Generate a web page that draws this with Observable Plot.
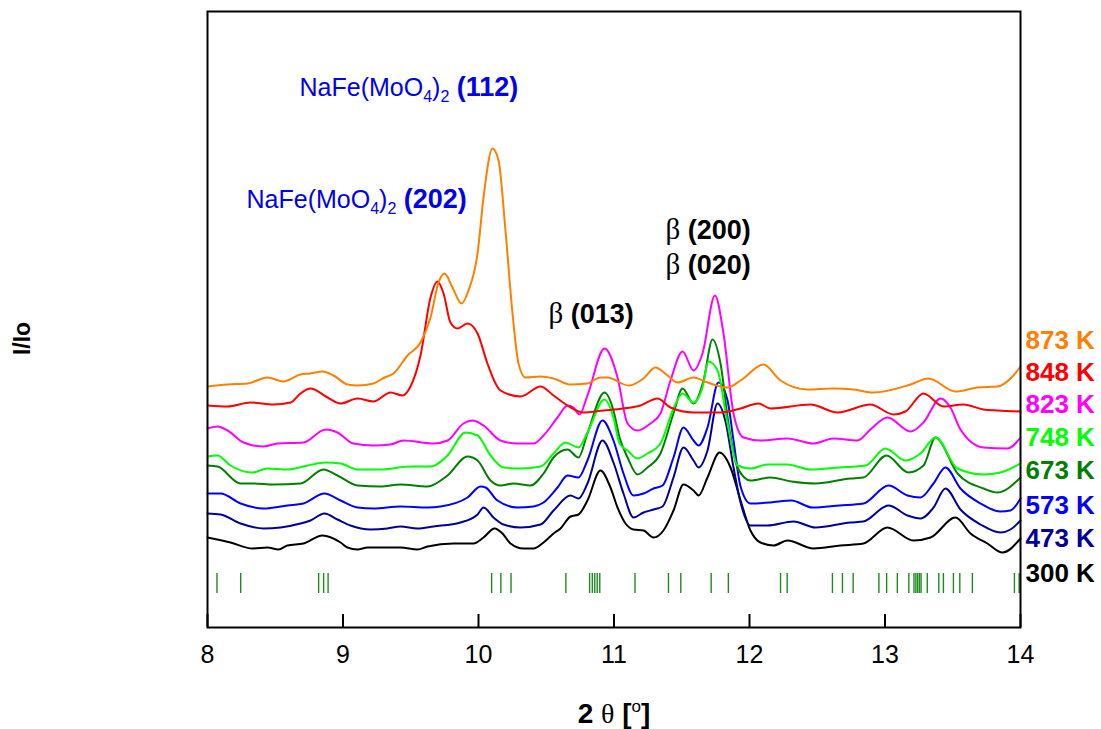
<!DOCTYPE html>
<html><head><meta charset="utf-8">
<script src="https://cdn.jsdelivr.net/npm/d3@7"></script>
<script src="https://cdn.jsdelivr.net/npm/@observablehq/plot@0.6"></script>
<style>body{margin:0;background:#fff}</style>
</head><body><div id="chart"></div>
<script>
// ---- data: [2theta (deg), intensity (arbitrary, offset)] ----
const k300 = [[8.000,90],[8.170,85],[8.332,79],[8.443,80],[8.524,78],[8.590,82],[8.708,84],[8.849,92],[8.982,85],[9.033,80],[9.107,78],[9.181,80],[9.328,80],[9.424,80],[9.550,78],[9.624,81],[9.815,84],[9.963,84],[10.037,90],[10.118,99],[10.177,94],[10.236,84],[10.332,79],[10.406,79],[10.480,85],[10.554,94],[10.605,99],[10.679,111],[10.738,113],[10.804,127],[10.900,157],[10.974,140],[11.026,120],[11.085,104],[11.144,98],[11.218,97],[11.292,90],[11.365,97],[11.439,117],[11.513,143],[11.587,137],[11.624,132],[11.690,150],[11.779,175],[11.860,160],[11.934,127],[12.007,97],[12.081,85],[12.177,82],[12.280,87],[12.472,79],[12.672,82],[12.841,84],[13.018,100],[13.210,87],[13.336,90],[13.520,110],[13.631,94],[13.756,84],[13.867,75],[14.000,89]];
const k473 = [[8.000,114],[8.096,113],[8.244,104],[8.413,99],[8.539,100],[8.686,104],[8.760,107],[8.863,114],[8.959,108],[9.055,102],[9.203,98],[9.328,99],[9.424,101],[9.550,99],[9.668,101],[9.867,105],[9.993,113],[10.037,120],[10.111,110],[10.185,103],[10.310,100],[10.458,103],[10.554,117],[10.679,132],[10.738,129],[10.804,144],[10.915,187],[10.996,165],[11.070,134],[11.144,110],[11.218,115],[11.292,118],[11.358,121],[11.439,150],[11.513,180],[11.587,167],[11.624,160],[11.690,177],[11.764,224],[11.823,206],[11.882,160],[11.934,125],[12.007,102],[12.133,102],[12.325,106],[12.487,100],[12.745,105],[12.841,106],[13.026,122],[13.166,112],[13.262,109],[13.358,120],[13.446,139],[13.557,118],[13.705,103],[13.852,95],[13.926,98],[14.000,107]];
const k573 = [[8.000,134],[8.096,134],[8.244,124],[8.413,119],[8.590,122],[8.708,124],[8.863,134],[8.982,127],[9.107,120],[9.225,119],[9.424,121],[9.624,120],[9.720,121],[9.919,130],[10.015,141],[10.052,140],[10.140,127],[10.288,120],[10.406,121],[10.480,125],[10.583,140],[10.657,152],[10.738,150],[10.804,167],[10.915,207],[10.996,187],[11.070,154],[11.144,132],[11.218,134],[11.292,139],[11.358,142],[11.439,170],[11.513,200],[11.587,187],[11.624,182],[11.690,200],[11.771,245],[11.838,227],[11.882,187],[11.934,141],[12.007,124],[12.155,125],[12.310,127],[12.465,120],[12.664,122],[12.841,124],[13.026,142],[13.166,132],[13.262,130],[13.358,144],[13.446,160],[13.557,139],[13.705,124],[13.852,116],[13.926,117],[14.000,129]];
const k673 = [[8.000,162],[8.074,161],[8.244,144],[8.340,144],[8.487,143],[8.686,144],[8.856,158],[8.959,152],[9.107,142],[9.277,141],[9.424,143],[9.624,141],[9.771,152],[9.919,171],[9.993,167],[10.089,147],[10.162,142],[10.258,144],[10.384,142],[10.480,154],[10.554,170],[10.657,178],[10.738,170],[10.804,194],[10.930,235],[10.996,217],[11.041,190],[11.100,170],[11.173,153],[11.247,160],[11.343,174],[11.439,214],[11.506,239],[11.587,224],[11.661,247],[11.727,288],[11.786,264],[11.845,204],[11.911,160],[12.007,147],[12.155,150],[12.310,146],[12.487,144],[12.745,149],[12.841,150],[13.011,172],[13.173,155],[13.284,162],[13.373,190],[13.535,154],[13.727,139],[13.830,135],[14.000,150]];
const k748 = [[8.000,171],[8.074,172],[8.170,162],[8.332,155],[8.443,159],[8.590,158],[8.738,162],[8.871,165],[8.982,164],[9.107,158],[9.277,158],[9.498,161],[9.646,161],[9.771,172],[9.904,195],[9.993,192],[10.089,172],[10.185,160],[10.310,159],[10.458,161],[10.554,174],[10.642,185],[10.738,180],[10.804,195],[10.930,228],[10.996,210],[11.041,184],[11.100,177],[11.173,169],[11.247,174],[11.343,184],[11.439,219],[11.506,234],[11.587,225],[11.653,240],[11.697,266],[11.764,257],[11.838,204],[11.911,162],[12.007,159],[12.133,163],[12.280,163],[12.450,158],[12.664,160],[12.856,162],[13.003,179],[13.151,167],[13.262,174],[13.373,190],[13.535,159],[13.727,153],[13.852,155],[14.000,164]];
const k823 = [[8.000,199],[8.074,201],[8.148,197],[8.266,185],[8.413,181],[8.517,184],[8.708,185],[8.871,198],[8.959,195],[9.077,184],[9.225,182],[9.351,183],[9.446,187],[9.668,184],[9.771,187],[9.889,204],[9.956,207],[10.037,202],[10.162,187],[10.288,184],[10.406,184],[10.480,192],[10.583,210],[10.657,222],[10.701,220],[10.745,213],[10.804,232],[10.930,279],[11.026,250],[11.100,204],[11.173,197],[11.269,204],[11.343,214],[11.417,247],[11.506,276],[11.587,257],[11.653,274],[11.745,332],[11.808,294],[11.882,214],[11.956,190],[12.081,187],[12.280,189],[12.472,184],[12.620,189],[12.797,187],[12.893,198],[13.018,210],[13.188,196],[13.284,205],[13.410,229],[13.483,220],[13.557,198],[13.727,180],[13.904,179],[14.000,190]];
const k848 = [[8.000,222],[8.148,221],[8.318,225],[8.487,223],[8.613,225],[8.686,234],[8.760,239],[8.886,230],[8.982,224],[9.107,229],[9.225,226],[9.351,235],[9.439,232],[9.498,241],[9.572,272],[9.646,330],[9.697,346],[9.742,334],[9.793,305],[9.845,299],[9.919,304],[9.993,294],[10.066,264],[10.126,244],[10.162,237],[10.310,231],[10.458,241],[10.554,232],[10.657,222],[10.775,215],[10.923,217],[11.070,219],[11.196,222],[11.321,229],[11.417,220],[11.587,215],[11.786,215],[11.934,219],[12.066,224],[12.155,219],[12.450,223],[12.649,215],[12.893,223],[13.063,213],[13.151,216],[13.284,234],[13.432,221],[13.579,223],[13.727,218],[13.830,217],[14.000,216]];
const k873 = [[8.000,241],[8.148,243],[8.295,244],[8.443,250],[8.561,246],[8.686,253],[8.760,254],[8.849,256],[8.930,252],[9.033,243],[9.107,242],[9.225,244],[9.306,250],[9.373,254],[9.476,272],[9.572,285],[9.646,310],[9.705,345],[9.749,354],[9.808,340],[9.875,324],[9.926,337],[9.993,374],[10.037,430],[10.103,479],[10.148,467],[10.199,397],[10.251,314],[10.295,264],[10.347,250],[10.458,251],[10.554,249],[10.679,243],[10.804,244],[10.900,250],[10.952,250],[11.107,242],[11.218,249],[11.306,260],[11.395,252],[11.469,245],[11.587,250],[11.690,245],[11.838,240],[11.934,247],[12.103,263],[12.229,247],[12.428,238],[12.620,239],[12.768,238],[12.915,235],[13.188,243],[13.321,249],[13.520,236],[13.683,240],[13.830,241],[13.948,252],[14.000,261]];

const seriesNames = ["300 K","473 K","573 K","673 K","748 K","823 K","848 K","873 K"];
const seriesColors = ["#000000","#000099","#0000ff","#008000","#00ff00","#ff00ff","#ff0000","#ff8000"];
const seriesData = [k300,k473,k573,k673,k748,k823,k848,k873];
const legendY = [54, 89, 122, 157, 190, 223, 255, 287];

// reflection positions (green tick marks)
const braggPos = [8.07,8.245,8.82,8.857,8.89,10.097,10.165,10.24,10.645,10.82,10.84,10.858,10.876,10.895,11.155,11.402,11.493,11.717,11.844,12.229,12.278,12.612,12.686,12.765,12.955,13.012,13.091,13.176,13.214,13.228,13.241,13.254,13.266,13.312,13.397,13.431,13.505,13.552,13.645,13.955,13.99];

const xTicks = [8, 9, 10, 11, 12, 13, 14];

// annotations
const annoLabels = ["NaFe(MoO4)2 (112)", "NaFe(MoO4)2 (202)", "β (200)", "β (020)", "β (013)"];
const annoX = [8.679, 8.288, 11.380, 11.380, 10.517];
const annoY = [540, 428, 397, 362, 313];
const annoColors = ["#0000ee", "#0000ee", "#000000", "#000000", "#000000"];

const xTitle = "2 θ [o]";
const yTitle = "I/Io";

const rows = seriesData.flatMap((s, i) => s.map(([x, y]) => ({x, y, name: seriesNames[i], color: seriesColors[i]})));
const annos = annoLabels.map((t, i) => ({t, x: annoX[i], y: annoY[i], c: annoColors[i]}));

const plot = Plot.plot({
  width: 1101,
  height: 729,
  marginLeft: 207,
  marginRight: 81,
  marginTop: 11,
  marginBottom: 102,
  style: {fontFamily: "'Liberation Sans', Arial, sans-serif", background: "#fff", overflow: "visible"},
  x: {domain: [8, 14]},
  y: {domain: [0, 616], axis: null},
  color: {type: "identity"},
  marks: [
    ...seriesNames.map((n, i) => Plot.line(rows.filter(r => r.name === n), {x: "x", y: "y", stroke: seriesColors[i], strokeWidth: 2, curve: "monotone-x"})),
    Plot.ruleX(braggPos, {y1: 34, y2: 54, stroke: "#1f8a1f", strokeWidth: 1.4}),
    Plot.ruleX(xTicks, {y1: 0, y2: 13, stroke: "#000", strokeWidth: 2}),
    Plot.frame({stroke: "#000", strokeWidth: 2}),
    Plot.axisX(xTicks, {tickSize: 0, tickPadding: 18, fontSize: 25, label: null, tickFormat: d => String(d)}),
    Plot.text(seriesNames, {x: () => 14, y: (d, i) => legendY[i], text: d => d, fill: (d, i) => seriesColors[i], dx: 5, textAnchor: "start", fontWeight: "bold", fontSize: 26}),
    Plot.text(annos, {x: "x", y: "y", text: "t", fill: "c", textAnchor: "start", fontSize: 25}),
    Plot.text([xTitle], {x: () => 11, y: () => -87, text: d => d, textAnchor: "middle", fontSize: 28}),
    Plot.text([yTitle], {x: () => 8, y: () => 289, text: d => d, dx: -185, rotate: -90, fontSize: 23, fontWeight: "bold", textAnchor: "middle"})
  ]
});
document.getElementById("chart").appendChild(plot);

// rich text (sub/superscripts, mixed weights) by splitting into tspans
const serif = "'Liberation Serif', 'DejaVu Serif', serif";
function setRich(el, parts) {
  const sel = d3.select(el);
  sel.text(null);
  for (const p of parts) {
    const ts = sel.append("tspan").text(p.t);
    if (p.size) ts.attr("font-size", p.size);
    if (p.weight) ts.attr("font-weight", p.weight);
    if (p.family) ts.attr("font-family", p.family);
    if (p.dy) ts.attr("dy", p.dy);
  }
}
function richParts(label) {
  let m = label.match(/^(NaFe\(MoO)(\d)(\))(\d)( \(\d+\))$/);
  if (m) return [
    {t: m[1], size: 25},
    {t: m[2], size: 16, dy: 6},
    {t: m[3], size: 25, dy: -6},
    {t: m[4], size: 16, dy: 6},
    {t: m[5], size: 27, weight: "bold", dy: -6}
  ];
  m = label.match(/^(β)( \(\d+\))$/);
  if (m) return [
    {t: m[1], size: 29, family: serif},
    {t: m[2], size: 27, weight: "bold"}
  ];
  if (label === xTitle) return [
    {t: "2 ", weight: "bold", size: 28},
    {t: "θ", size: 28, family: serif},
    {t: " [", weight: "bold", size: 28},
    {t: "o", size: 17, dy: -11},
    {t: "]", weight: "bold", size: 28, dy: 11}
  ];
  return null;
}
d3.select(plot).selectAll("text").each(function() {
  if (this.querySelector("tspan")) return;
  const parts = richParts(this.textContent);
  if (parts) setRich(this, parts);
});
</script>
</body></html>
